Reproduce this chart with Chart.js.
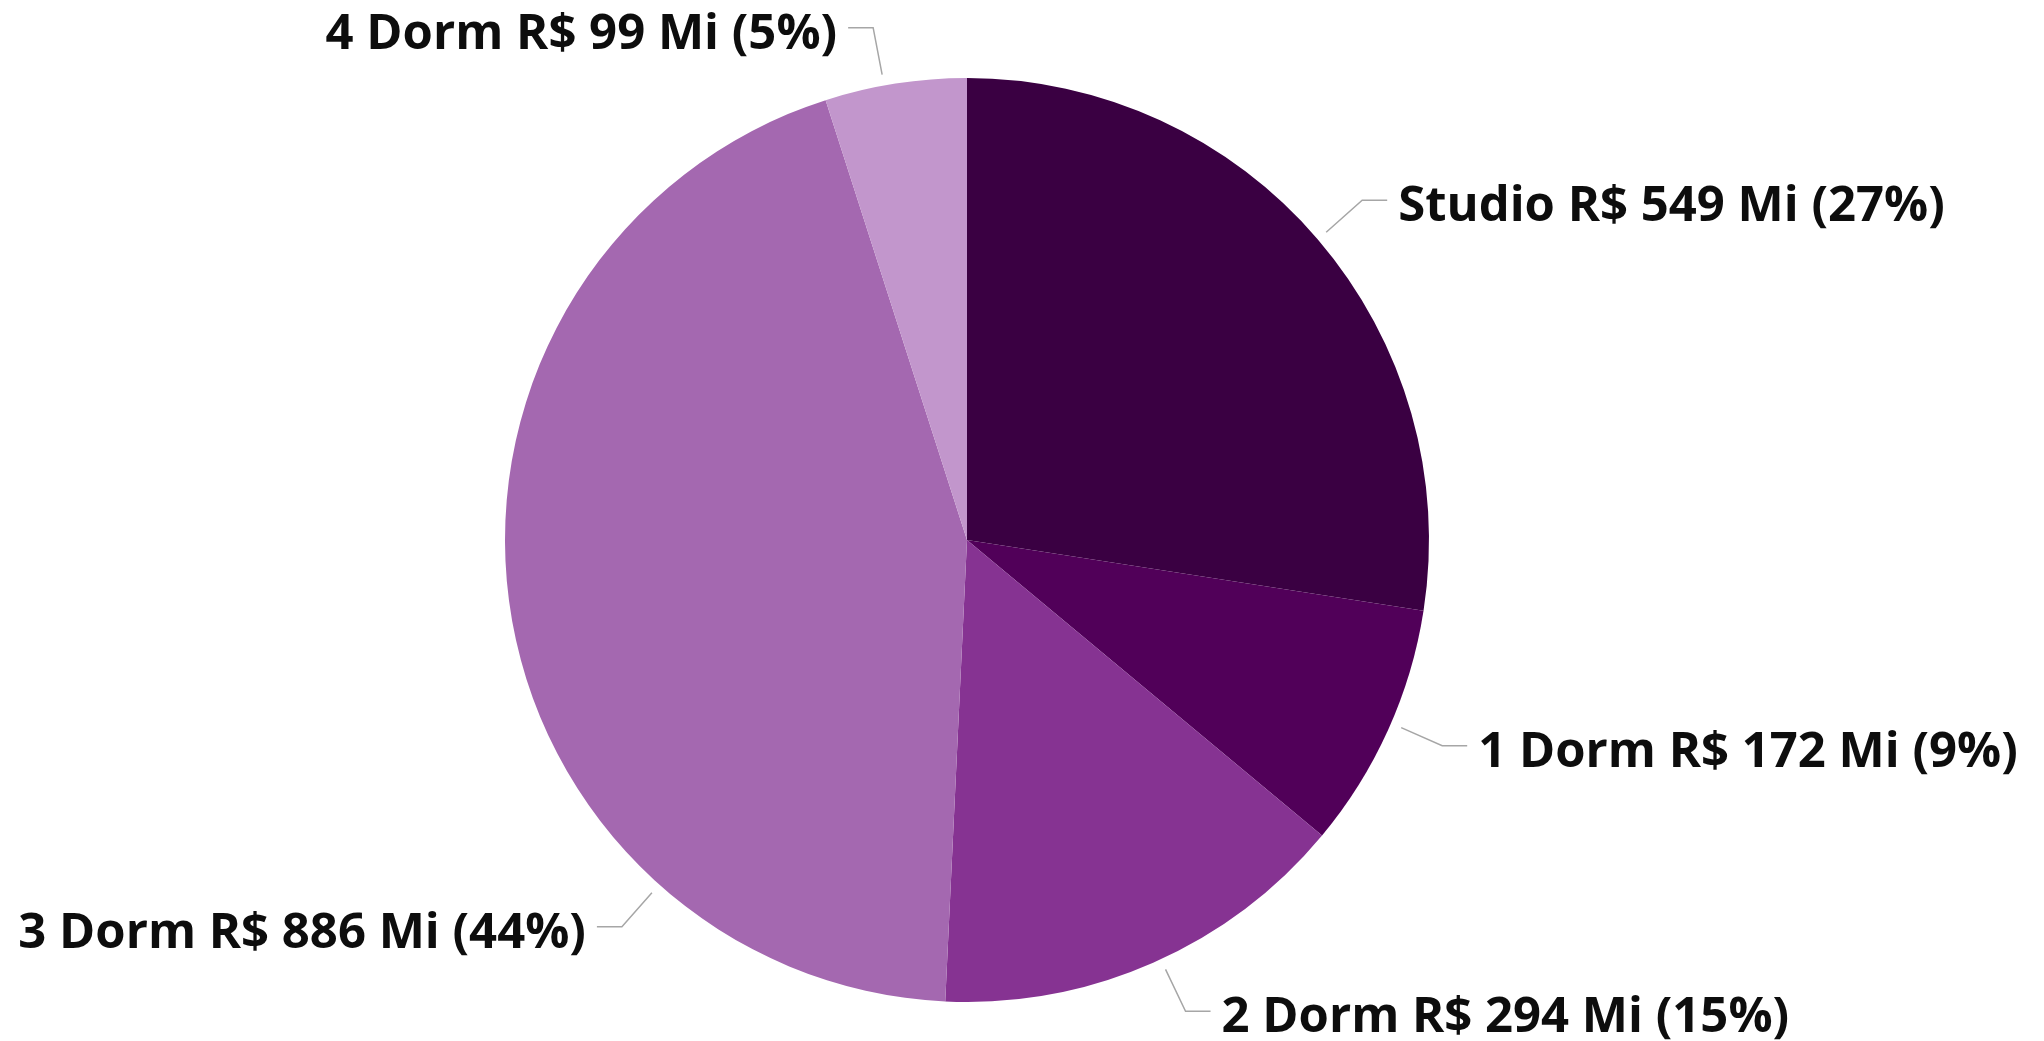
<!DOCTYPE html>
<html>
<head>
<meta charset="utf-8">
<script src="https://cdn.jsdelivr.net/npm/chart.js@4.4.0/dist/chart.umd.min.js"></script>
<style>
  html, body { margin: 0; padding: 0; background: #ffffff; }
  #wrap { width: 2044px; height: 1041px; }
</style>
</head>
<body>
<div id="wrap"><canvas id="c" width="2044" height="1041"></canvas></div>
<script>
// ---- Data ----
const categories = ['Studio', '1 Dorm', '2 Dorm', '3 Dorm', '4 Dorm'];
const values = [549, 172, 294, 886, 99];
const colors = ['#3a0042', '#510059', '#863392', '#a468b0', '#c296cc'];

// ---- Label layout (style only) ----
// anchor position within slice (fraction of its angle), elbow offset, horizontal side
const labelLayout = [
  { frac: 0.50, ex: 36,  ey: -32, side: 1 },
  { frac: 0.47, ex: 41,  ey: 18,  side: 1 },
  { frac: 0.48, ex: 20,  ey: 42,  side: 1 },
  { frac: 0.245, ex: -30, ey: 34, side: -1 },
  { frac: 0.42, ex: -9,  ey: -47, side: -1 }
];

const total = values.reduce((a, b) => a + b, 0);
const labelTexts = categories.map((c, i) =>
  `${c} R$ ${values[i]} Mi (${Math.round(values[i] / total * 100)}%)`);

const FONT_SIZE = 49;
const FONT = `bold ${FONT_SIZE}px "Open Sans", "Noto Sans", sans-serif`;

const leaderPlugin = {
  id: 'leaderLabels',
  afterDatasetsDraw(chart) {
    const ctx = chart.ctx;
    const meta = chart.getDatasetMeta(0);
    ctx.save();
    meta.data.forEach((arc, i) => {
      const L = labelLayout[i];
      const a = arc.startAngle + (arc.endAngle - arc.startAngle) * L.frac;
      const r = arc.outerRadius + 11;
      const ax = arc.x + Math.cos(a) * r;
      const ay = arc.y + Math.sin(a) * r;
      const bx = ax + L.ex;
      const by = ay + L.ey;
      const cx = bx + L.side * 25;
      ctx.strokeStyle = '#a6a6a6';
      ctx.lineWidth = 1.5;
      ctx.beginPath();
      ctx.moveTo(ax, ay);
      ctx.lineTo(bx, by);
      ctx.lineTo(cx, by);
      ctx.stroke();
      ctx.font = FONT;
      ctx.fillStyle = '#0d0d0d';
      ctx.textBaseline = 'alphabetic';
      ctx.textAlign = L.side > 0 ? 'left' : 'right';
      ctx.fillText(labelTexts[i], cx + L.side * 11, by + 21);
    });
    ctx.restore();
  }
};

new Chart(document.getElementById('c'), {
  type: 'pie',
  data: {
    labels: categories,
    datasets: [{
      data: values,
      backgroundColor: colors,
      borderWidth: 0
    }]
  },
  options: {
    responsive: false,
    animation: false,
    rotation: 0,
    layout: { padding: { top: 78, bottom: 39, left: 505, right: 615 } },
    plugins: {
      legend: { display: false },
      tooltip: { enabled: false }
    }
  },
  plugins: [leaderPlugin]
});
</script>
</body>
</html>
